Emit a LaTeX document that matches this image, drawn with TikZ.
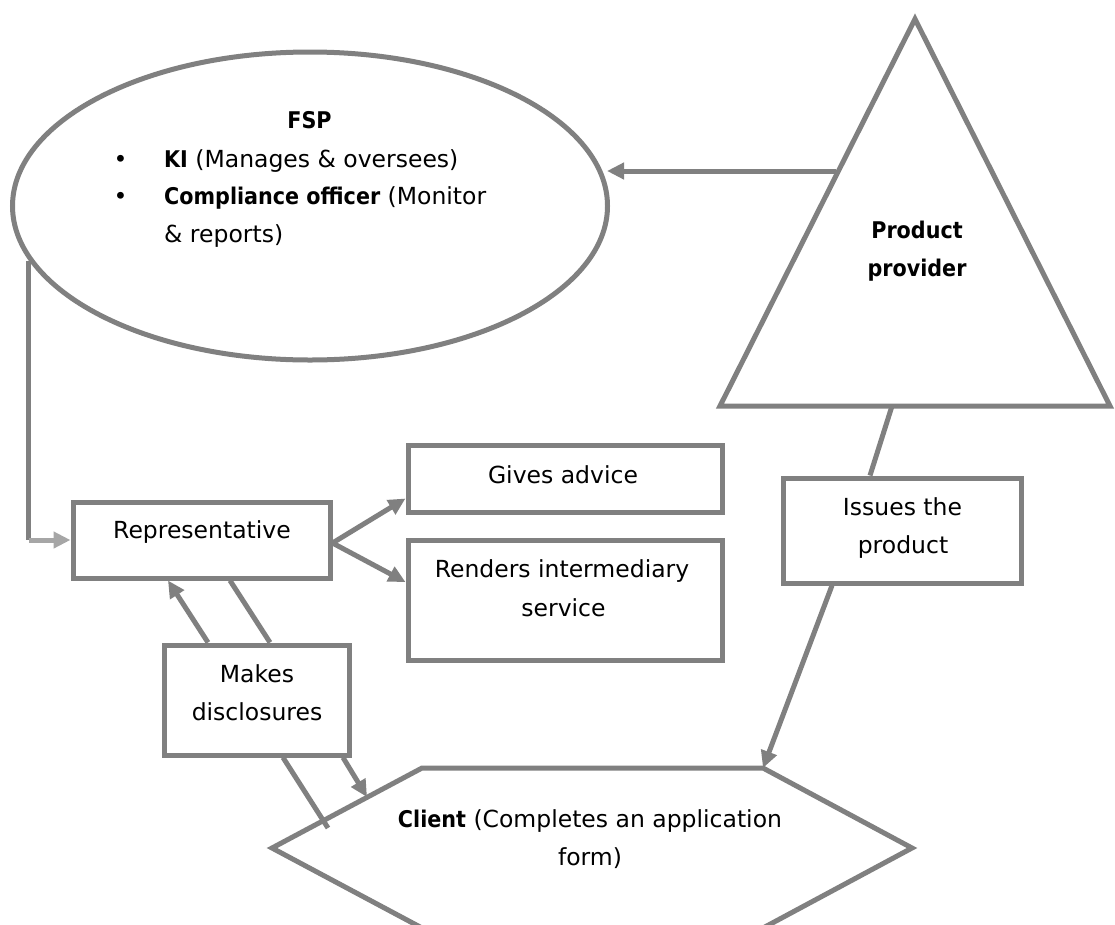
\documentclass[tikz,border=0pt]{standalone}
\usepackage{fontspec}
\setmainfont{DejaVu Sans}
\newfontfamily\mybf{DejaVu Sans Bold}[FakeStretch=0.9]
\usetikzlibrary{arrows.meta,shapes.geometric}
\definecolor{lineg}{RGB}{128,128,128}
\definecolor{lightg}{RGB}{166,166,166}
\newcommand\myreg{\fontsize{23.5}{38}\selectfont}
\newcommand\mybold{\fontsize{23}{38}\selectfont\mybf}
\begin{document}
\begin{tikzpicture}[x=1pt,y=-1pt,
  ln/.style={draw=lineg,line width=5pt},
  box/.style={ln,fill=white,rectangle,inner sep=0pt,outer sep=2.5pt},
  txt/.style={inner sep=0pt,anchor=base,font=\myreg},
  arr/.style={ln,-{Triangle[length=17pt,width=16pt]}},
  larr/.style={draw=lightg,line width=5pt,-{Triangle[length=17pt,width=16pt]}},
]
\useasboundingbox (0,0) rectangle (1115,924);
\clip (0,0) rectangle (1115,924);
\fill[white] (0,0) rectangle (1115,924);

% FSP ellipse
\node[ln,fill=white,ellipse,minimum width=595pt,minimum height=308pt,inner sep=0pt,outer sep=2.5pt] (fsp) at (310,206) {};
\node[txt,font=\mybold] (fspT) at (309.5,128) {FSP};
\node[txt] (b1) at (120.5,167) {•};
\node[txt] (b2) at (120.5,204) {•};
\node[txt,anchor=base west] (ki) at (164,167) {{\mybold KI} (Manages \& oversees)};
\node[txt,anchor=base west] (co) at (164,204) {{\mybold Compliance officer} (Monitor};
\node[txt,anchor=base west] (co2) at (164,242) {\& reports)};

% Product provider triangle
\coordinate (ppA) at (915,19);
\coordinate (ppL) at (720,406);
\coordinate (ppR) at (1110,406);
\draw[ln,fill=white,line join=miter] (ppA) -- (ppL) -- (ppR) -- cycle;
\node[txt,font=\mybold] (pp1) at (917,238) {Product};
\node[txt,font=\mybold] (pp2) at (917,276) {provider};

% Client hexagon
\coordinate (c1) at (422,768);
\coordinate (c2) at (763,768);
\coordinate (c3) at (912,848);
\coordinate (c4) at (763,928);
\coordinate (c5) at (422,928);
\coordinate (c6) at (272,848);
\draw[ln,fill=white,line join=miter] (c1) -- (c2) -- (c3) -- (c4) -- (c5) -- (c6) -- cycle;
\node[txt] (cl1) at (590,827) {{\mybold Client} (Completes an application};
\node[txt] (cl2) at (590,865) {form)};

% boxes
\node[box,minimum width=257pt,minimum height=76pt] (rep) at (201.5,540) {};
\node[txt] (repT) at (202,538) {Representative};
\node[box,minimum width=314pt,minimum height=67pt] (gives) at (565,478.5) {};
\node[txt] (givesT) at (563,483) {Gives advice};
\node[box,minimum width=314pt,minimum height=120pt] (rend) at (565,600) {};
\node[txt] (rendT1) at (562,577) {Renders intermediary};
\node[txt] (rendT2) at (563.5,616) {service};
\node[box,minimum width=185pt,minimum height=110pt] (makes) at (256.5,700) {};
\node[txt] (makesT1) at (257,682) {Makes};
\node[txt] (makesT2) at (257,720) {disclosures};
\node[box,minimum width=238pt,minimum height=105pt] (issues) at (902,530.5) {};
\node[txt] (issT1) at (902.5,515) {Issues the};
\node[txt] (issT2) at (903,553) {product};

% connectors
\coordinate (ppW) at (836,171);
\coordinate (fspE) at (607,171);
\draw[arr] (ppW) -- (fspE);

\coordinate (bend) at (fsp.191 |- rep.west);
\draw[ln] (fsp.191) -- (bend);
\draw[larr] (bend) -- (rep.west);

\draw[arr] ([yshift=-3pt]rep.east) -- ([yshift=-20pt]gives.west);
\draw[arr] ([yshift=-3pt]rep.east) -- ([yshift=18pt]rend.west);

\draw[arr] ([xshift=-48.5pt]makes.north) -- ([xshift=-33.5pt]rep.south);
\draw[ln] ([xshift=28.5pt]rep.south) -- ([xshift=13.5pt]makes.north);

\coordinate (clA) at (328,828);
\coordinate (clB) at (367,797);
\draw[ln] ([xshift=26.5pt]makes.south) -- (clA);
\draw[arr] ([xshift=86.5pt]makes.south) -- (clB);

\coordinate (ppB) at (892,406);
\draw[ln] (ppB) -- ([xshift=-32pt]issues.north);
\draw[arr] ([xshift=-70pt]issues.south) -- (c2);
\end{tikzpicture}
\end{document}
